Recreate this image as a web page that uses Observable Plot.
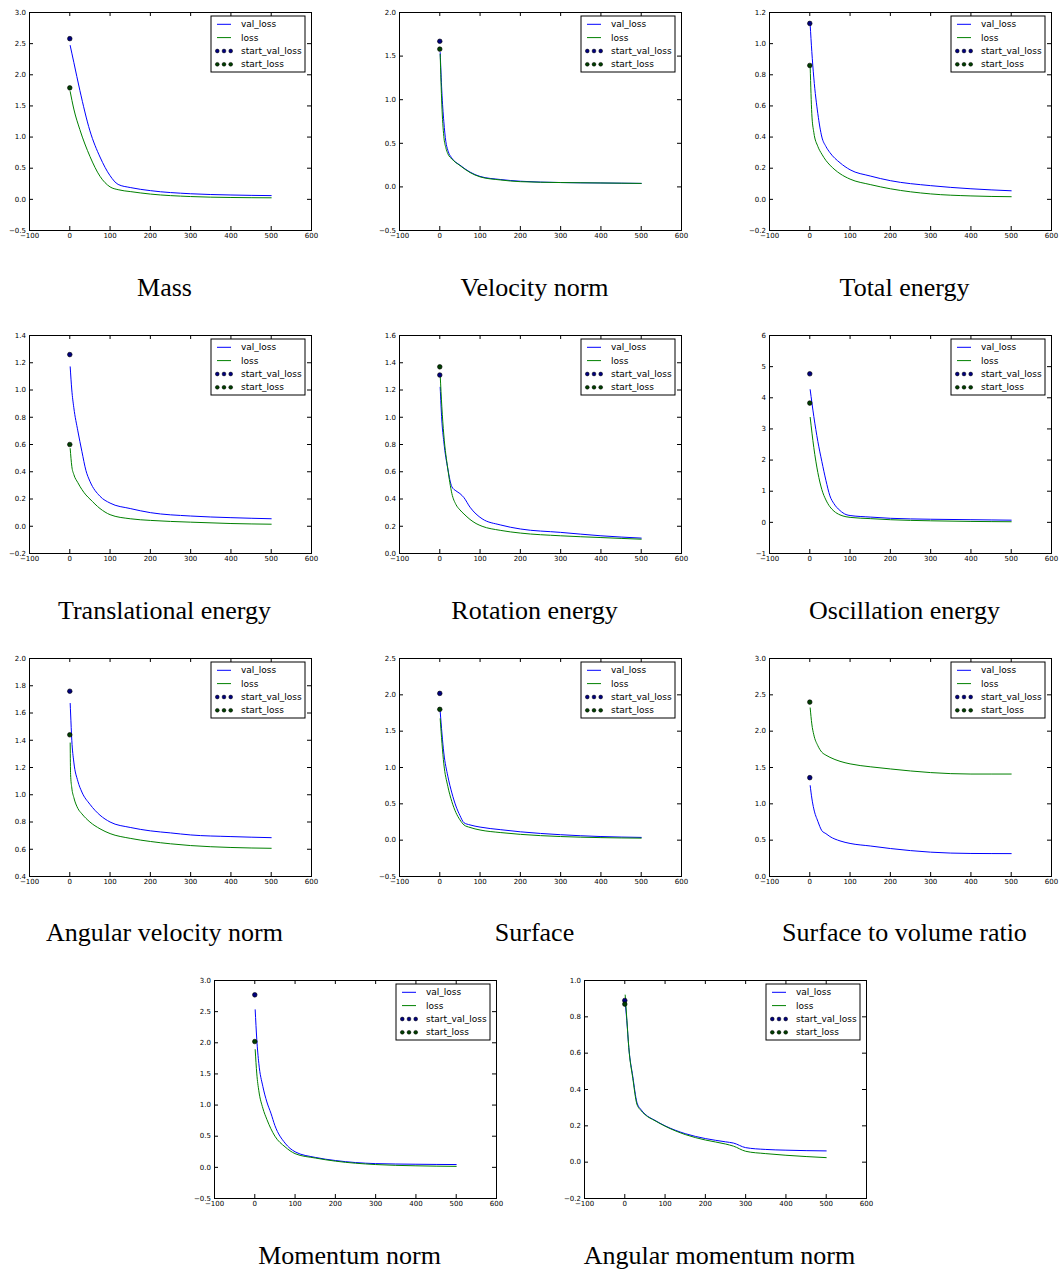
<!DOCTYPE html>
<html><head><meta charset="utf-8">
<script src="https://cdn.jsdelivr.net/npm/d3@7"></script>
<script src="https://cdn.jsdelivr.net/npm/@observablehq/plot@0.6"></script>
<style>
body{margin:0;background:#fff;}
#root{position:relative;width:1062px;height:1271px;overflow:hidden;background:#fff;}
.panel{position:absolute;}
.title{position:absolute;width:320px;text-align:center;font-family:"Liberation Serif","Times New Roman",serif;font-size:26px;line-height:26px;color:#000;white-space:nowrap;}
</style></head><body><div id="root"></div>
<script>
// ---------- data ----------
const titles = ["Mass","Velocity norm","Total energy","Translational energy","Rotation energy","Oscillation energy","Angular velocity norm","Surface","Surface to volume ratio","Momentum norm","Angular momentum norm"];
const xTicks = [-100,0,100,200,300,400,500,600];
const yDomains = [[-0.5,3.0],[-0.5,2.0],[-0.2,1.2],[-0.2,1.4],[0,1.6],[-1,6],[0.4,2.0],[-0.5,2.5],[0,3],[-0.5,3.0],[-0.2,1.0]];
const yTickSteps = [0.5,0.5,0.2,0.2,0.2,1,0.2,0.5,0.5,0.5,0.2];
const startValLoss = [2.58,1.67,1.13,1.26,1.31,4.77,1.76,2.02,1.36,2.77,0.89];
const startLoss = [1.79,1.58,0.86,0.60,1.37,3.83,1.44,1.80,2.40,2.02,0.87];
const epochs = [
  [1,10,25,50,75,100,120,150,200,300,400,500],
  [1,5,10,15,20,30,50,75,100,150,200,300,400,500],
  [1,5,10,20,30,40,50,75,100,150,200,300,400,500],
  [1,5,10,20,30,40,50,75,100,150,200,300,400,500],
  [1,5,10,20,30,40,50,60,75,90,105,150,200,300,400,500],
  [1,10,20,30,40,50,60,75,90,100,150,200,300,400,500],
  [1,2,5,10,20,30,50,75,100,150,200,250,300,400,500],
  [1,10,20,30,40,50,60,75,100,150,200,300,400,500],
  [1,5,10,20,30,40,50,75,100,150,200,300,400,500],
  [1,5,10,20,30,40,50,75,100,150,200,300,400,500],
  [1,5,10,20,30,40,50,75,100,150,200,250,270,300,350,400,500]
];
const valLoss = [
  [2.47,2.20,1.75,1.10,0.68,0.38,0.24,0.19,0.14,0.09,0.07,0.06],
  [1.54,1.10,0.75,0.52,0.42,0.33,0.25,0.17,0.12,0.085,0.065,0.05,0.045,0.04],
  [1.12,0.95,0.78,0.55,0.40,0.34,0.30,0.235,0.19,0.15,0.12,0.088,0.068,0.055],
  [1.17,1.00,0.87,0.70,0.55,0.41,0.33,0.22,0.17,0.13,0.10,0.075,0.063,0.055],
  [1.22,0.98,0.82,0.62,0.49,0.46,0.44,0.41,0.34,0.29,0.255,0.21,0.18,0.155,0.13,0.113],
  [4.26,3.4,2.6,1.95,1.35,0.85,0.6,0.38,0.25,0.22,0.17,0.13,0.10,0.085,0.07],
  [1.67,1.60,1.40,1.24,1.10,1.02,0.93,0.85,0.80,0.76,0.735,0.72,0.705,0.693,0.685],
  [1.77,1.20,0.88,0.65,0.47,0.34,0.24,0.21,0.18,0.145,0.115,0.075,0.05,0.038],
  [1.25,1.08,0.93,0.76,0.63,0.59,0.55,0.49,0.455,0.42,0.385,0.335,0.317,0.315],
  [2.53,2.05,1.67,1.30,1.05,0.87,0.67,0.39,0.25,0.16,0.11,0.06,0.05,0.045],
  [0.88,0.78,0.63,0.47,0.33,0.29,0.265,0.23,0.20,0.157,0.13,0.112,0.105,0.08,0.07,0.066,0.062]
];
const trainLoss = [
  [1.73,1.45,1.12,0.69,0.37,0.20,0.155,0.125,0.085,0.045,0.03,0.025],
  [1.52,0.95,0.58,0.45,0.38,0.32,0.245,0.165,0.115,0.08,0.06,0.05,0.045,0.04],
  [0.85,0.55,0.43,0.34,0.29,0.25,0.22,0.165,0.13,0.095,0.068,0.035,0.022,0.017],
  [0.57,0.44,0.38,0.32,0.27,0.23,0.20,0.13,0.085,0.055,0.043,0.03,0.02,0.015],
  [1.31,1.08,0.87,0.62,0.44,0.36,0.32,0.29,0.25,0.22,0.20,0.17,0.15,0.13,0.117,0.105],
  [3.37,2.4,1.6,1.05,0.72,0.5,0.36,0.24,0.18,0.16,0.12,0.085,0.05,0.03,0.02],
  [1.38,1.15,1.05,0.98,0.90,0.86,0.80,0.75,0.715,0.68,0.657,0.64,0.627,0.613,0.607],
  [1.67,1.05,0.74,0.53,0.38,0.28,0.21,0.175,0.14,0.105,0.08,0.05,0.035,0.028],
  [2.32,2.10,1.95,1.80,1.71,1.67,1.64,1.585,1.55,1.51,1.48,1.43,1.41,1.41],
  [1.89,1.50,1.23,0.95,0.77,0.62,0.50,0.33,0.22,0.15,0.10,0.045,0.025,0.016],
  [0.92,0.79,0.63,0.46,0.32,0.285,0.262,0.228,0.198,0.152,0.122,0.10,0.088,0.06,0.047,0.038,0.025]
];
const legendLabels = ["val_loss","loss","start_val_loss","start_loss"];

// ---------- layout ----------
const frameLefts = [29,399,769, 29,399,769, 29,399,769, 214,584];
const frameTops  = [12,12,12, 335,335,335, 658,658,658, 980,980];
const titleBaselines = [297,297,297, 620,620,620, 942,942,942, 1265,1265];
const ML = 29, MR = 9, MT = 12, MB = 15, W = 320, H = 245;
const innerW = W - ML - MR, innerH = H - MT - MB;
const BLUE = "#0000ff", GREEN = "#008000", NAVY = "#00007f", DKGREEN = "#003f00";

const root = document.getElementById("root");

titles.forEach((title, i) => {
  const [y0, y1] = yDomains[i];
  const step = yTickSteps[i];
  const yTicks = d3.range(Math.round((y1 - y0) / step) + 1).map(k => +(y0 + k * step).toFixed(4));
  const yFmt = step >= 1 ? d3.format("d") : d3.format(".1f");
  const rows = epochs[i].map((e, k) => ({epoch: e, val: valLoss[i][k], loss: trainLoss[i][k]}));

  const svg = Plot.plot({
    width: W, height: H,
    marginLeft: ML, marginRight: MR, marginTop: MT, marginBottom: MB,
    style: {fontFamily: "'DejaVu Sans', sans-serif", fontSize: "7px", color: "#000", background: "transparent", overflow: "visible"},
    x: {domain: [-100, 600], ticks: xTicks, tickSize: 0, tickPadding: 3, tickFormat: d3.format("d"), label: null},
    y: {domain: [y0, y1], ticks: yTicks, tickSize: 0, tickPadding: 3.5, tickFormat: yFmt, label: null},
    marks: [
      Plot.line(rows, {x: "epoch", y: "val", stroke: BLUE, strokeWidth: 1, curve: "monotone-x"}),
      Plot.line(rows, {x: "epoch", y: "loss", stroke: GREEN, strokeWidth: 1, curve: "monotone-x"}),
      Plot.dot([startValLoss[i]], {x: () => 0, y: d => d, r: 2.3, fill: NAVY, stroke: "#000", strokeWidth: 0.6}),
      Plot.dot([startLoss[i]], {x: () => 0, y: d => d, r: 2.3, fill: DKGREEN, stroke: "#000", strokeWidth: 0.6}),
      Plot.tickX(xTicks, {x: d => d, insetTop: innerH - 4, stroke: "#000"}),
      Plot.tickX(xTicks, {x: d => d, insetBottom: innerH - 4, stroke: "#000"}),
      Plot.tickY(yTicks, {y: d => d, insetRight: innerW - 4, stroke: "#000"}),
      Plot.tickY(yTicks, {y: d => d, insetLeft: innerW - 4, stroke: "#000"}),
      Plot.frame({stroke: "#000", strokeWidth: 1})
    ]
  });

  // legend (upper right, inside the frame)
  const g = d3.select(svg).append("g").attr("transform", `translate(${ML + 182},${MT + 4})`)
    .attr("text-anchor", "start");
  g.append("rect").attr("x", 0).attr("y", 0).attr("width", 94).attr("height", 56)
    .attr("fill", "#fff").attr("stroke", "#000").attr("stroke-width", 1);
  const rowY = [8.3, 21.6, 35, 48.3];
  g.append("line").attr("x1", 6).attr("x2", 20).attr("y1", rowY[0]).attr("y2", rowY[0]).attr("stroke", BLUE).attr("stroke-width", 1);
  g.append("line").attr("x1", 6).attr("x2", 20).attr("y1", rowY[1]).attr("y2", rowY[1]).attr("stroke", GREEN).attr("stroke-width", 1);
  [[NAVY, rowY[2]], [DKGREEN, rowY[3]]].forEach(([c, yy]) => {
    [6.3, 13, 19.7].forEach(xx => g.append("circle").attr("cx", xx).attr("cy", yy).attr("r", 1.9)
      .attr("fill", c).attr("stroke", "#000").attr("stroke-width", 0.5));
  });
  legendLabels.forEach((t, k) => g.append("text").attr("x", 30).attr("y", rowY[k]).attr("dy", "0.35em")
    .attr("text-anchor", "start")
    .attr("font-family", "'DejaVu Sans', sans-serif").attr("font-size", 9).attr("fill", "#000").text(t));

  const div = document.createElement("div");
  div.className = "panel";
  div.style.left = (frameLefts[i] - ML) + "px";
  div.style.top = (frameTops[i] - MT) + "px";
  div.appendChild(svg);
  root.appendChild(div);

  const tdiv = document.createElement("div");
  tdiv.className = "title";
  tdiv.style.left = (frameLefts[i] + 135.5 - 160) + "px";
  tdiv.style.top = (titleBaselines[i] - 21.8) + "px";
  tdiv.textContent = title;
  root.appendChild(tdiv);
});
</script></body></html>
